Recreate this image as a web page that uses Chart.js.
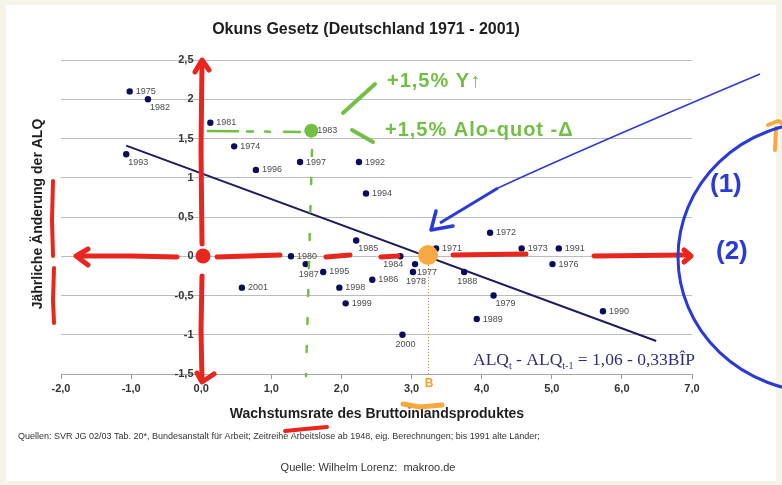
<!DOCTYPE html>
<html>
<head>
<meta charset="utf-8">
<script src="https://cdn.jsdelivr.net/npm/chart.js@4.4.0/dist/chart.umd.min.js"></script>
<style>
  html, body { margin: 0; padding: 0; background: #f6f3e9; }
  #wrap { width: 782px; height: 485px; position: relative; }
</style>
</head>
<body>
<div id="wrap"><canvas id="okunChart"></canvas></div>
<script>
// values
const years = [1971, 1972, 1973, 1974, 1975, 1976, 1977, 1978, 1979, 1980,
  1981, 1982, 1983, 1984, 1985, 1986, 1987, 1988, 1989, 1990,
  1991, 1992, 1993, 1994, 1995, 1996, 1997, 1998, 1999, 2000, 2001];
const bipGrowth = [3.35, 4.12, 4.57, 0.47, -1.02, 5.01, 3.05, 3.02, 4.17, 1.28,
  0.13, -0.76, 1.57, 2.84, 2.21, 2.44, 1.49, 3.75, 3.93, 5.73,
  5.10, 2.25, -1.07, 2.35, 1.74, 0.78, 1.41, 1.97, 2.06, 2.87, 0.58];
const alqChange = [0.1, 0.3, 0.1, 1.4, 2.1, -0.1, -0.1, -0.2, -0.5, 0.0,
  1.7, 2.0, 1.6, 0.0, 0.2, -0.3, -0.1, -0.2, -0.8, -0.7,
  0.1, 1.2, 1.3, 0.8, -0.2, 1.1, 1.2, -0.4, -0.6, -1.0, -0.4];

// regression line end points
const trendX = [-1.07, 6.49];
const trendY = [1.41, -1.08];

const xTickLabels = ["-2,0", "-1,0", "0,0", "1,0", "2,0", "3,0", "4,0", "5,0", "6,0", "7,0"];
const yTickLabels = ["-1,5", "-1", "-0,5", "0", "0,5", "1", "1,5", "2", "2,5"];

const FONT = '"Liberation Sans", Arial, sans-serif';

// where the year label sits relative to its dot
const labelSide = {
  1982: "br", 1993: "br", 1987: "b", 1985: "br", 1984: "bl",
  1977: "br", 1978: "b", 2000: "b", 1988: "b", 1979: "br"
};

function stroke(ctx, pts, color, width, dash) {
  ctx.save();
  ctx.strokeStyle = color;
  ctx.lineWidth = width;
  ctx.lineCap = "round";
  ctx.lineJoin = "round";
  if (dash) ctx.setLineDash(dash);
  ctx.beginPath();
  pts.forEach((p, i) => (i ? ctx.lineTo(p[0], p[1]) : ctx.moveTo(p[0], p[1])));
  ctx.stroke();
  ctx.restore();
}

function dot(ctx, x, y, r, color) {
  ctx.save();
  ctx.fillStyle = color;
  ctx.beginPath();
  ctx.arc(x, y, r, 0, Math.PI * 2);
  ctx.fill();
  ctx.restore();
}

const backgroundPlugin = {
  id: "background",
  beforeDraw(chart) {
    const ctx = chart.ctx;
    ctx.save();
    ctx.fillStyle = "#f6f3e9";
    ctx.fillRect(0, 0, chart.width, chart.height);
    ctx.fillStyle = "#ffffff";
    ctx.fillRect(6, 5, 770, 476);
    ctx.restore();
  }
};

const textPlugin = {
  id: "texts",
  afterDatasetsDraw(chart) {
    const ctx = chart.ctx;
    const meta = chart.getDatasetMeta(0);
    ctx.save();
    ctx.font = "9px " + FONT;
    ctx.fillStyle = "#4a4a4a";
    ctx.textBaseline = "middle";
    meta.data.forEach((pt, i) => {
      const side = labelSide[years[i]] || "r";
      let x = pt.x, y = pt.y;
      if (side === "r") { ctx.textAlign = "left"; x += 6; }
      else if (side === "br") { ctx.textAlign = "left"; x += 2; y += 8; }
      else if (side === "b") { ctx.textAlign = "center"; x += 3; y += 10; }
      else { ctx.textAlign = "right"; x += 3; y += 8; }
      ctx.fillText(String(years[i]), x, y);
    });
    ctx.restore();
  },
  afterDraw(chart) {
    const ctx = chart.ctx;
    ctx.save();
    ctx.fillStyle = "#1e1e1e";
    ctx.textAlign = "center";
    ctx.textBaseline = "middle";
    ctx.font = "bold 16px " + FONT;
    ctx.fillText("Okuns Gesetz (Deutschland 1971 - 2001)", 366, 30);
    ctx.font = "bold 14px " + FONT;
    ctx.fillText("Wachstumsrate des Bruttoinlandsproduktes", 377, 414);
    ctx.save();
    ctx.translate(38, 214);
    ctx.rotate(-Math.PI / 2);
    ctx.fillText("Jährliche Änderung der ALQ", 0, 0);
    ctx.restore();
    ctx.fillStyle = "#333";
    ctx.textAlign = "left";
    ctx.font = "9px " + FONT;
    ctx.fillText("Quellen: SVR JG 02/03 Tab. 20*, Bundesanstalt für Arbeit; Zeitreihe Arbeitslose ab 1948, eig. Berechnungen; bis 1991 alte Länder;", 18, 437);
    ctx.textAlign = "center";
    ctx.font = "11px " + FONT;
    ctx.fillText("Quelle: Wilhelm Lorenz:  makroo.de", 368, 468);

    // regression equation
    ctx.fillStyle = "#2e2e78";
    ctx.textAlign = "left";
    ctx.textBaseline = "alphabetic";
    const big = '17.5px "Liberation Serif", "Times New Roman", serif';
    const small = '10px "Liberation Serif", "Times New Roman", serif';
    let ex = 473;
    const ey = 365;
    const parts = [["ALQ", big, 0], ["t", small, 4], [" - ALQ", big, 0], ["t-1", small, 4], [" = 1,06 - 0,33BÎP", big, 0]];
    parts.forEach(([s, f, dy]) => {
      ctx.font = f;
      ctx.fillText(s, ex, ey + dy);
      ex += ctx.measureText(s).width;
    });
    ctx.restore();

    drawSketch(chart);
  }
};

function drawSketch(chart) {
  const ctx = chart.ctx;
  const red = "#e8261e", orange = "#f7a941", blue = "#2a3ad6", green = "#72bf44";

  // green notes
  stroke(ctx, [[208, 131], [300, 132]], green, 2.5, [30, 9, 6, 12, 5, 14]);
  stroke(ctx, [[312, 150], [306, 376]], green, 2.5, [6, 22]);
  stroke(ctx, [[343, 113], [375, 84]], green, 4);
  stroke(ctx, [[352, 130], [373, 142]], green, 4);
  ctx.save();
  ctx.fillStyle = green;
  ctx.font = "bold 20px " + FONT;
  ctx.letterSpacing = "1px";
  ctx.textBaseline = "middle";
  ctx.fillText("+1,5% Y↑", 387, 81);
  ctx.fillText("+1,5% Alo-quot -Δ", 385, 130);
  ctx.restore();

  // red axes sketch
  stroke(ctx, [[202, 244], [201, 150], [202, 62]], red, 5);
  stroke(ctx, [[195, 72], [202, 60], [209, 70]], red, 5);
  stroke(ctx, [[202, 276], [201, 330], [202, 381]], red, 5);
  stroke(ctx, [[197, 373], [202, 382], [214, 374]], red, 5);
  stroke(ctx, [[177, 257], [130, 256], [78, 256]], red, 5);
  stroke(ctx, [[88, 249], [76, 256], [88, 265]], red, 5);
  stroke(ctx, [[217, 257], [280, 255]], red, 5);
  stroke(ctx, [[326, 257], [350, 255]], red, 5);
  stroke(ctx, [[381, 257], [398, 256]], red, 5);
  stroke(ctx, [[453, 255], [526, 254]], red, 5);
  stroke(ctx, [[594, 256], [686, 255]], red, 5);
  stroke(ctx, [[684, 250], [691, 256], [684, 262]], red, 5);
  dot(ctx, 203, 256, 7.5, red);
  stroke(ctx, [[53, 181], [52, 220], [53, 256]], red, 4);
  stroke(ctx, [[54, 268], [53, 300], [54, 323]], red, 4);
  stroke(ctx, [[285, 431], [305, 429], [327, 427]], red, 4);

  // orange marks
  ctx.save();
  ctx.strokeStyle = "#c98a4e";
  ctx.lineWidth = 1;
  ctx.setLineDash([1, 2]);
  ctx.beginPath();
  ctx.moveTo(428.5, 262);
  ctx.lineTo(428.5, 374);
  ctx.stroke();
  ctx.restore();
  dot(ctx, 428, 255, 10, orange);
  ctx.save();
  ctx.fillStyle = "#f0a134";
  ctx.font = "bold 12px " + FONT;
  ctx.textAlign = "center";
  ctx.textBaseline = "middle";
  ctx.fillText("B", 429, 384);
  ctx.restore();
  stroke(ctx, [[403, 404], [420, 407], [442, 405]], orange, 5);
  stroke(ctx, [[768, 125], [778, 121], [782, 123]], orange, 4);
  stroke(ctx, [[776, 128], [775, 150]], orange, 4);

  // blue arrow and ellipse
  ctx.save();
  ctx.strokeStyle = blue;
  ctx.lineWidth = 1.5;
  ctx.beginPath();
  ctx.moveTo(760, 74);
  ctx.quadraticCurveTo(580, 150, 498, 188);
  ctx.stroke();
  ctx.lineWidth = 3;
  ctx.beginPath();
  ctx.moveTo(498, 188);
  ctx.lineTo(440, 223);
  ctx.stroke();
  ctx.restore();
  stroke(ctx, [[436, 211], [431, 230], [453, 226]], blue, 3.5);
  ctx.save();
  ctx.strokeStyle = blue;
  ctx.lineWidth = 3;
  ctx.beginPath();
  ctx.ellipse(820, 257, 142, 135, 0, 0, Math.PI * 2);
  ctx.stroke();
  ctx.fillStyle = blue;
  ctx.font = "bold 26px " + FONT;
  ctx.textBaseline = "middle";
  ctx.fillText("(1)", 710, 185);
  ctx.fillText("(2)", 716, 252);
  ctx.restore();
}

const points = years.map((y, i) => ({ x: bipGrowth[i], y: alqChange[i] }));
const trend = trendX.map((x, i) => ({ x: x, y: trendY[i] }));

new Chart(document.getElementById("okunChart"), {
  type: "scatter",
  data: {
    datasets: [
      {
        label: "Jahre",
        data: points,
        pointBackgroundColor: (c) => (years[c.dataIndex] === 1983 ? "#72bf44" : "#0c0c5c"),
        pointBorderWidth: 0,
        pointRadius: (c) => (years[c.dataIndex] === 1983 ? 7 : 3.2),
      },
      {
        label: "Regression",
        data: trend,
        showLine: true,
        borderColor: "#1c1c5e",
        borderWidth: 2,
        pointRadius: 0,
      },
    ],
  },
  options: {
    responsive: true,
    maintainAspectRatio: false,
    animation: false,
    devicePixelRatio: 1,
    layout: { padding: { left: 61, right: 90, top: 60, bottom: 111 } },
    scales: {
      x: {
        type: "linear",
        min: -2,
        max: 7,
        position: { y: -1.5 },
        ticks: {
          stepSize: 1,
          padding: 4,
          color: "#333",
          font: { family: FONT, size: 11, weight: "bold" },
          callback: (v, i) => xTickLabels[i],
        },
        grid: { display: true, drawOnChartArea: false, drawTicks: true, tickLength: 4, color: "#9a9a9a" },
        border: { display: true, color: "#a8a8a8" },
      },
      y: {
        type: "linear",
        min: -1.5,
        max: 2.5,
        // labels sit just left of the x = 0 crossing (the axis line is under the red sketch)
        position: { x: -0.11 },
        ticks: {
          stepSize: 0.5,
          color: "#333",
          font: { family: FONT, size: 11, weight: "bold" },
          callback: (v, i) => yTickLabels[i],
        },
        grid: { color: "#bcbcbc", drawTicks: false },
        border: { display: false },
      },
    },
    plugins: {
      legend: { display: false },
      tooltip: { enabled: false },
    },
  },
  plugins: [backgroundPlugin, textPlugin],
});
</script>
</body>
</html>
